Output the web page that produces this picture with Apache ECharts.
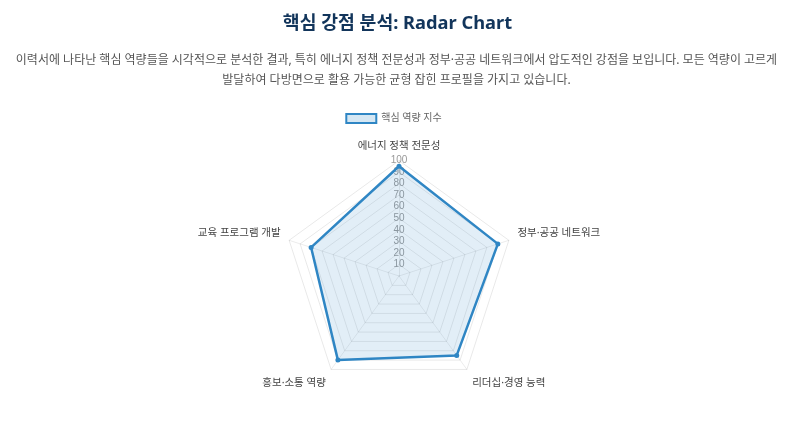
<!DOCTYPE html>
<html>
<head>
<meta charset="utf-8">
<script src="https://cdn.jsdelivr.net/npm/echarts@6/dist/echarts.min.js"></script>
<style>
  html,body{margin:0;padding:0;width:787px;height:421px;background:#fff;overflow:hidden;
    font-family:"Noto Sans","Noto Sans CJK KR",sans-serif;}
  #title{position:absolute;left:4px;top:7px;width:787px;text-align:center;font-size:18.3px;font-weight:bold;color:#12355b;margin:0;line-height:30px;}
  #desc{position:absolute;left:3px;top:50px;width:787px;text-align:center;font-size:12px;color:#555;line-height:20px;margin:0;white-space:nowrap;}
  #chart{position:absolute;left:0;top:0;width:787px;height:421px;}
</style>
</head>
<body>
<div id="chart"></div>
<h2 id="title">핵심 강점 분석: Radar Chart</h2>
<p id="desc">이력서에 나타난 핵심 역량들을 시각적으로 분석한 결과, 특히 에너지 정책 전문성과 정부·공공 네트워크에서 압도적인 강점을 보입니다. 모든 역량이 고르게<br>발달하여 다방면으로 활용 가능한 균형 잡힌 프로필을 가지고 있습니다.</p>
<script>
const categories = ['에너지 정책 전문성', '정부·공공 네트워크', '리더십·경영 능력', '홍보·소통 역량', '교육 프로그램 개발'];
const seriesName = '핵심 역량 지수';
const values = [95, 90, 85, 90, 80];
const axisMax = 100;

const lineColor = '#2f86c4';
const fillColor = 'rgba(47,134,196,0.2)';
const fontFam = '"Noto Sans", "Noto Sans CJK KR", sans-serif';

// ECharts lays radar axes counter-clockwise; reorder so they run clockwise like the reference
const order = [0].concat(categories.slice(1).map((_, i) => categories.length - 1 - i));
// which rich style nudges each axis name (by original index)
const nameStyle = ['n', 'up', 'down', 'down', 'up'];

const nameBase = {color: '#444', fontSize: 10.5, fontFamily: fontFam};

const chart = echarts.init(document.getElementById('chart'));
chart.setOption({
  animation: false,
  legend: {
    top: 108, left: 'center',
    itemWidth: 30, itemHeight: 9, itemGap: 8,
    textStyle: {color: '#666', fontSize: 10, fontFamily: fontFam},
    data: [{name: seriesName, icon: 'rect', itemStyle: {color: fillColor, borderColor: lineColor, borderWidth: 2}}]
  },
  radar: {
    center: [399, 276],
    radius: 115.5,
    startAngle: 90,
    splitNumber: 10,
    shape: 'polygon',
    nameGap: 9,
    axisName: Object.assign({}, nameBase, {
      formatter: function (name) {
        const i = categories.indexOf(name);
        return '{' + nameStyle[i] + '|' + name + '}';
      },
      rich: {
        n: Object.assign({}, nameBase),
        up: Object.assign({padding: [0, 0, 10, 0]}, nameBase),
        down: Object.assign({padding: [12, 0, 0, 0]}, nameBase)
      }
    }),
    axisLine: {lineStyle: {color: 'rgba(0,0,0,0.08)'}},
    splitLine: {lineStyle: {color: 'rgba(0,0,0,0.09)', width: 1}},
    splitArea: {show: false},
    axisLabel: {show: false},
    indicator: order.map(i => {
      const ind = {name: categories[i], max: axisMax, min: 0};
      if (i === 0) ind.axisLabel = {show: true, showMinLabel: false, color: '#999', fontSize: 10, margin: 0, align: 'center', verticalAlign: 'middle', fontFamily: 'Liberation Sans, Arial, sans-serif'};
      return ind;
    })
  },
  series: [{
    type: 'radar',
    name: seriesName,
    symbol: 'circle',
    symbolSize: 5,
    itemStyle: {color: lineColor},
    lineStyle: {color: lineColor, width: 2.5},
    areaStyle: {color: fillColor},
    data: [{name: seriesName, value: order.map(i => values[i])}]
  }]
});
</script>
</body>
</html>
